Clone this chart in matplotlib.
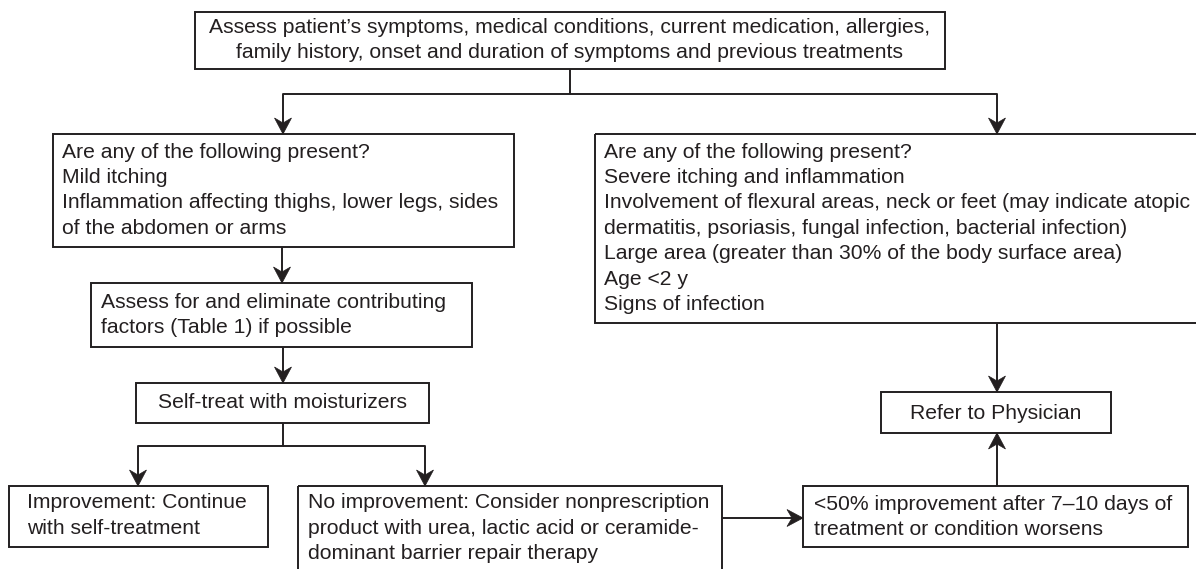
import matplotlib.pyplot as plt
from matplotlib.patches import Rectangle, Polygon

plt.rcParams['font.family'] = ['Liberation Sans', 'DejaVu Sans']

# Flowchart content
node_names = ['assess', 'mild', 'eliminate', 'selftreat', 'improve',
              'noimprove', 'severe', 'refer', 'worse']
node_texts = [
    "Assess patient\u2019s symptoms, medical conditions, current medication, allergies,\n"
    "family history, onset and duration of symptoms and previous treatments",
    "Are any of the following present?\nMild itching\n"
    "Inflammation affecting thighs, lower legs, sides\nof the abdomen or arms",
    "Assess for and eliminate contributing\nfactors (Table 1) if possible",
    "Self-treat with moisturizers",
    "Improvement: Continue\nwith self-treatment",
    "No improvement: Consider nonprescription\nproduct with urea, lactic acid or ceramide-\n"
    "dominant barrier repair therapy",
    "Are any of the following present?\nSevere itching and inflammation\n"
    "Involvement of flexural areas, neck or feet (may indicate atopic\n"
    "dermatitis, psoriasis, fungal infection, bacterial infection)\n"
    "Large area (greater than 30% of the body surface area)\nAge <2 y\nSigns of infection",
    "Refer to Physician",
    "<50% improvement after 7\u201310 days of\ntreatment or condition worsens",
]
edges = [('assess', 'mild'), ('assess', 'severe'), ('mild', 'eliminate'),
         ('eliminate', 'selftreat'), ('selftreat', 'improve'),
         ('selftreat', 'noimprove'), ('severe', 'refer'),
         ('noimprove', 'worse'), ('worse', 'refer')]

# layout in pixels: box (x0, y0, x1, y1), text anchor x, first line y, alignment
layout = {
    'assess':    ((195, 12, 945, 69), 570, 27, 'center'),
    'mild':      ((53, 134, 514, 247), 62, 152, 'left'),
    'eliminate': ((91, 283, 472, 347), 101, 302, 'left'),
    'selftreat': ((136, 383, 429, 423), 283, 402, 'center'),
    'improve':   ((9, 486, 268, 547), 27, 503, 'left'),
    'noimprove': ((298, 486, 722, 580), 308, 503, 'left'),
    'severe':    ((595, 134, 1205, 323), 604, 152, 'left'),
    'refer':     ((881, 392, 1111, 433), 996, 413, 'center'),
    'worse':     ((803, 486, 1188, 547), 814, 504, 'left'),
}
# connector routes (pixel polylines), last segment gets the arrowhead
routes = {
    ('assess', 'mild'): [(570, 69), (570, 94), (283, 94), (283, 134)],
    ('assess', 'severe'): [(570, 94), (997, 94), (997, 134)],
    ('mild', 'eliminate'): [(282, 247), (282, 283)],
    ('eliminate', 'selftreat'): [(283, 347), (283, 383)],
    ('selftreat', 'improve'): [(283, 423), (283, 446), (138, 446), (138, 486)],
    ('selftreat', 'noimprove'): [(283, 446), (425, 446), (425, 486)],
    ('severe', 'refer'): [(997, 323), (997, 392)],
    ('noimprove', 'worse'): [(722, 518), (803, 518)],
    ('worse', 'refer'): [(997, 486), (997, 433)],
}

ink = '#231f20'
line_step = 25.4

fig = plt.figure(figsize=(11.96, 5.69), dpi=100)
ax = fig.add_axes([0, 0, 1, 1])
ax.set_xlim(0, 1196)
ax.set_ylim(569, 0)
ax.axis('off')


def arrow_head(tip, prev, length=16, width=17, notch=5):
    # stealth-like arrowhead pointing from prev to tip
    dx, dy = tip[0] - prev[0], tip[1] - prev[1]
    n = (dx ** 2 + dy ** 2) ** 0.5
    ux, uy = dx / n, dy / n
    px, py = -uy, ux
    bx, by = tip[0] - ux * length, tip[1] - uy * length
    pts = [tip,
           (bx + px * width / 2, by + py * width / 2),
           (tip[0] - ux * (length - notch), tip[1] - uy * (length - notch)),
           (bx - px * width / 2, by - py * width / 2)]
    ax.add_patch(Polygon(pts, closed=True, fc=ink, ec=ink, lw=0.5, zorder=3))


for name, text in zip(node_names, node_texts):
    (x0, y0, x1, y1), tx, ty, align = layout[name]
    ax.add_patch(Rectangle((x0, y0), x1 - x0, y1 - y0, fill=False,
                           ec=ink, lw=1.4, zorder=2))
    for i, line in enumerate(text.split('\n')):
        ax.text(tx, ty + i * line_step, line, ha=align, va='center',
                fontsize=15.2, color=ink, zorder=4)

for edge in edges:
    pts = routes[edge]
    xs = [p[0] for p in pts]
    ys = [p[1] for p in pts]
    ax.plot(xs, ys, color=ink, lw=1.4, solid_capstyle='butt', zorder=1)
    arrow_head(pts[-1], pts[-2])

fig.savefig('out.png', dpi=100)
